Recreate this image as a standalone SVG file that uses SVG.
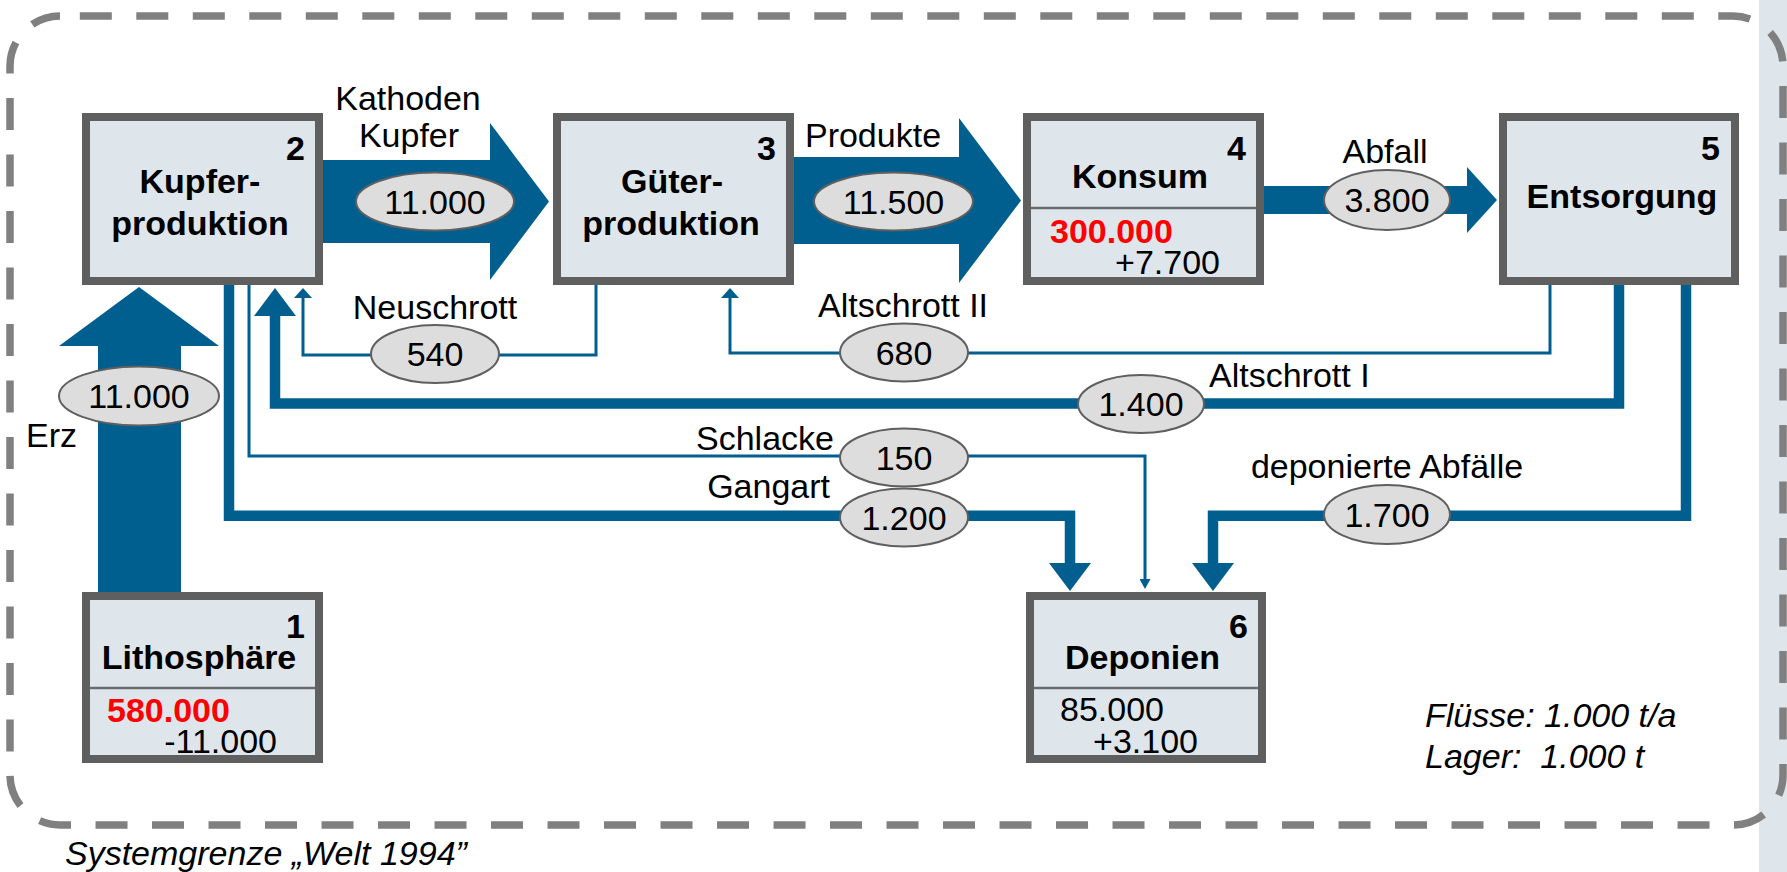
<svg xmlns="http://www.w3.org/2000/svg" width="1787" height="872" viewBox="0 0 1787 872">
<defs>
<style>
text{font-family:"Liberation Sans",Arial,sans-serif;font-size:34px;fill:#000}
.b{font-weight:bold}
.red{fill:#ff0000;font-weight:bold}
.it{font-style:italic}
.c{text-anchor:middle}
.e{text-anchor:end}
.box{fill:#dee6ec;stroke:#5f5f5f;stroke-width:8}
.div{stroke:#6b6b6b;stroke-width:2.5}
.flow{fill:#005f8e}
.thick{fill:none;stroke:#005f8e;stroke-width:10.5}
.thin{fill:none;stroke:#005f8e;stroke-width:3}
.ell{fill:#dddddd;stroke:#5f5f5f;stroke-width:2}
</style>
<marker id="hThick" markerUnits="userSpaceOnUse" viewBox="0 -21 28 42" markerWidth="28" markerHeight="42" refX="0" refY="0" orient="auto"><path d="M0,-21 L28,0 L0,21 Z" fill="#005f8e"/></marker>
<marker id="hThin" markerUnits="userSpaceOnUse" viewBox="0 -9 10 18" markerWidth="10" markerHeight="18" refX="0" refY="0" orient="auto"><path d="M0,-9 L10,0 L0,9 Z" fill="#005f8e"/></marker>
<marker id="hSmall" markerUnits="userSpaceOnUse" viewBox="0 -5.5 10 11" markerWidth="10" markerHeight="11" refX="0" refY="0" orient="auto"><path d="M0,-5.5 L10,0 L0,5.5 Z" fill="#005f8e"/></marker>
</defs>
<rect x="0" y="0" width="1787" height="872" fill="#ffffff"/>
<rect x="1759" y="0" width="28" height="872" fill="#dee6ec"/>
<rect id="systemgrenze" x="10" y="16" width="1773" height="809" rx="50" ry="50" fill="none" stroke="#808080" stroke-width="7.5" stroke-dasharray="32 24.5" stroke-dashoffset="36.7"/>

<g id="connectors">
<polygon class="flow" points="318,160 490,160 490,123 549,201.5 490,280 490,243 318,243"/>
<polygon class="flow" points="790,157 959,157 959,118 1021,200.5 959,283 959,244 790,244"/>
<polygon class="flow" points="1260,186 1467,186 1467,167 1497,200 1467,233 1467,214 1260,214"/>
<polygon class="flow" points="98,594 98,346 59,346 139,287 219,346 181,346 181,594"/>
<polyline class="thin" points="596,282 596,355 303,355 303,298" marker-end="url(#hThin)"/>
<polyline class="thin" points="1550,282 1550,353 730,353 730,298" marker-end="url(#hThin)"/>
<polyline class="thick" points="1619,282 1619,403.5 275,403.5 275,316" marker-end="url(#hThick)"/>
<polyline class="thin" points="249,282 249,456 1145,456 1145,579" marker-end="url(#hSmall)"/>
<polyline class="thick" points="229,282 229,515.7 1070,515.7 1070,563" marker-end="url(#hThick)"/>
<polyline class="thick" points="1686,282 1686,515.7 1213,515.7 1213,563" marker-end="url(#hThick)"/>

<ellipse class="ell" cx="435" cy="201.5" rx="79" ry="29"/>
<text class="c" x="435" y="214">11.000</text>
<ellipse class="ell" cx="893.5" cy="201.5" rx="79.5" ry="29"/>
<text class="c" x="893.5" y="214">11.500</text>
<ellipse class="ell" cx="1387" cy="200" rx="63" ry="30"/>
<text class="c" x="1387" y="212">3.800</text>
<ellipse class="ell" cx="139" cy="396" rx="80" ry="29.5"/>
<text class="c" x="139" y="408">11.000</text>
<ellipse class="ell" cx="435" cy="354" rx="64" ry="29"/>
<text class="c" x="435" y="366">540</text>
<ellipse class="ell" cx="904" cy="352.5" rx="64" ry="29"/>
<text class="c" x="904" y="364.5">680</text>
<ellipse class="ell" cx="1141" cy="404" rx="63" ry="29"/>
<text class="c" x="1141" y="416">1.400</text>
<ellipse class="ell" cx="904" cy="457.5" rx="64" ry="29"/>
<text class="c" x="904" y="469.5">150</text>
<ellipse class="ell" cx="904" cy="517.5" rx="64" ry="29"/>
<text class="c" x="904" y="529.5">1.200</text>
<ellipse class="ell" cx="1387" cy="514.5" rx="63" ry="29.5"/>
<text class="c" x="1387" y="526.5">1.700</text>

<text class="c" x="408" y="110">Kathoden</text>
<text class="c" x="409" y="147">Kupfer</text>
<text class="c" x="873" y="147">Produkte</text>
<text class="c" x="1385" y="163">Abfall</text>
<text class="c" x="435" y="319">Neuschrott</text>
<text class="c" x="903" y="317">Altschrott II</text>
<text x="1209" y="387">Altschrott I</text>
<text class="e" x="834" y="450">Schlacke</text>
<text class="e" x="830" y="498">Gangart</text>
<text class="c" x="1387" y="478">deponierte Abfälle</text>
<text x="26" y="447">Erz</text>
</g>

<g id="node1">
<rect class="box" x="86" y="596" width="233" height="163"/>
<line class="div" x1="90" y1="688" x2="315" y2="688"/>
<text class="b e" x="305" y="638">1</text>
<text class="b c" x="199" y="669">Lithosphäre</text>
<text class="red" x="107" y="722">580.000</text>
<text class="e" x="277" y="753">-11.000</text>
</g>

<g id="node2">
<rect class="box" x="86" y="117" width="233" height="164"/>
<text class="b e" x="305" y="160">2</text>
<text class="b c" x="200" y="193">Kupfer-</text>
<text class="b c" x="200" y="235">produktion</text>
</g>

<g id="node3">
<rect class="box" x="557" y="117" width="233" height="164"/>
<text class="b e" x="776" y="160">3</text>
<text class="b c" x="672" y="193">Güter-</text>
<text class="b c" x="671" y="235">produktion</text>
</g>

<g id="node4">
<rect class="box" x="1027" y="117" width="233" height="164"/>
<line class="div" x1="1031" y1="208" x2="1256" y2="208"/>
<text class="b e" x="1246" y="160">4</text>
<text class="b c" x="1140" y="188">Konsum</text>
<text class="red" x="1050" y="243">300.000</text>
<text class="e" x="1220" y="274">+7.700</text>
</g>

<g id="node5">
<rect class="box" x="1503" y="117" width="232" height="164"/>
<text class="b e" x="1720" y="160">5</text>
<text class="b c" x="1622" y="208">Entsorgung</text>
</g>

<g id="node6">
<rect class="box" x="1030" y="596" width="232" height="163"/>
<line class="div" x1="1034" y1="688" x2="1258" y2="688"/>
<text class="b e" x="1248" y="638">6</text>
<text class="b c" x="1142.5" y="669">Deponien</text>
<text x="1060" y="721">85.000</text>
<text class="e" x="1198" y="753">+3.100</text>
</g>

<g id="legend">
<text class="it" x="1425" y="727">Flüsse: 1.000 t/a</text>
<text class="it" x="1425" y="768" xml:space="preserve">Lager:  1.000 t</text>
<text class="it" x="65" y="865">Systemgrenze „Welt 1994”</text>
</g>
</svg>
